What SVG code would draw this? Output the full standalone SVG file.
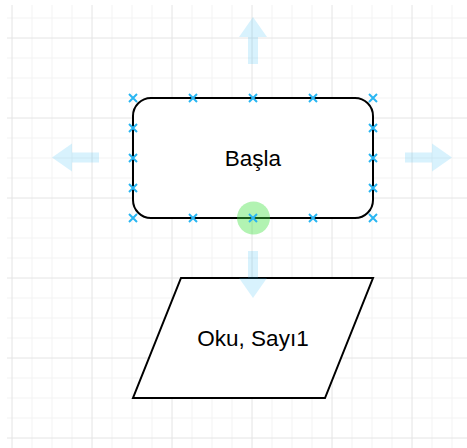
<svg xmlns="http://www.w3.org/2000/svg" width="467" height="448" viewBox="0 0 467 448">
<defs>
<style>
.minor{stroke:#f3f3f3;stroke-width:1}
.major{stroke:#e4e4e4;stroke-width:1}
.shape{fill:#ffffff;stroke:#000000;stroke-width:2}
.lbl{font-family:"Liberation Sans",Arial,sans-serif;font-size:22.5px;fill:#000000;text-anchor:middle}
.hint{fill:#29b6f2;opacity:0.18}
.cp{stroke:#29b6f2;stroke-width:2;fill:none}
</style>
<path id="x" d="M-4,-4L4,4M-4,4L4,-4"/>
<path id="arr" d="M0,-5L27,-5L27,-14L47,0L27,14L27,5L0,5Z"/>
</defs>
<rect width="467" height="448" fill="#ffffff"/>
<g id="grid">
<path class="minor" d="M32,5V448M52,5V448M72,5V448M112,5V448M132,5V448M152,5V448M192,5V448M212,5V448M232,5V448M272,5V448M292,5V448M312,5V448M352,5V448M372,5V448M392,5V448M432,5V448M452,5V448M7,18H467M7,58H467M7,78H467M7,98H467M7,138H467M7,158H467M7,178H467M7,218H467M7,238H467M7,258H467M7,298H467M7,318H467M7,338H467M7,378H467M7,398H467M7,418H467"/>
<path class="major" d="M12,5V448M92,5V448M172,5V448M252,5V448M332,5V448M412,5V448M7,38H467M7,118H467M7,198H467M7,278H467M7,358H467M7,438H467"/>
</g>
<g id="connectors"></g>
<g id="start">
<rect class="shape" x="133" y="98" width="240" height="120" rx="18" ry="18"/>
<text class="lbl" x="253" y="166">Başla</text>
</g>
<g id="read">
<path class="shape" d="M181,278H373L325,398H133Z"/>
<text class="lbl" x="253" y="346">Oku, Sayı1</text>
</g>
<g id="hover">
<use href="#arr" class="hint" transform="translate(405,157.5)"/>
<use href="#arr" class="hint" transform="translate(99,157.5) rotate(180)"/>
<use href="#arr" class="hint" transform="translate(253,64) rotate(-90)"/>
<use href="#arr" class="hint" transform="translate(253,251) rotate(90)"/>
<circle cx="253.5" cy="218" r="16.5" fill="#3ee03e" opacity="0.4"/>
<g class="cp">
<use href="#x" x="133" y="98"/><use href="#x" x="193" y="98"/><use href="#x" x="253" y="98"/><use href="#x" x="313" y="98"/><use href="#x" x="373" y="98"/>
<use href="#x" x="133" y="218"/><use href="#x" x="193" y="218"/><use href="#x" x="253" y="218"/><use href="#x" x="313" y="218"/><use href="#x" x="373" y="218"/>
<use href="#x" x="133" y="128"/><use href="#x" x="133" y="158"/><use href="#x" x="133" y="188"/>
<use href="#x" x="373" y="128"/><use href="#x" x="373" y="158"/><use href="#x" x="373" y="188"/>
</g>
</g>
</svg>
